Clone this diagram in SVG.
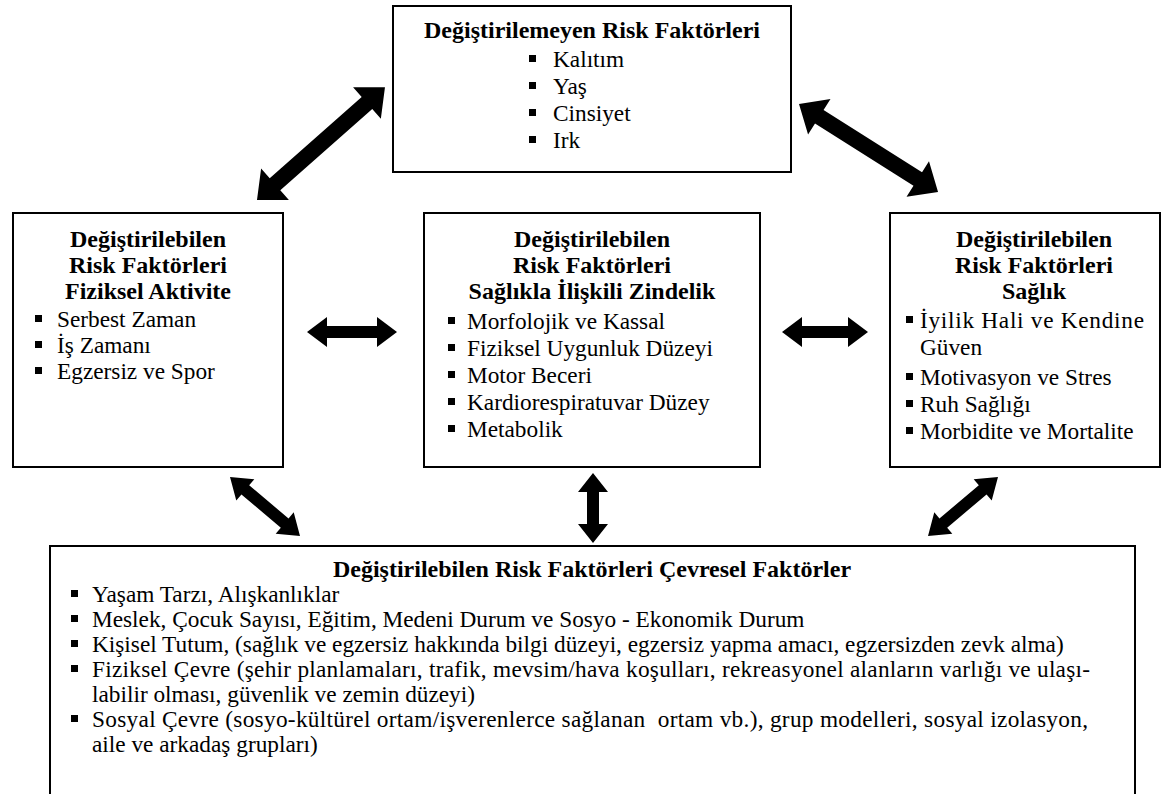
<svg xmlns="http://www.w3.org/2000/svg" width="1173" height="794" viewBox="0 0 1173 794">
<style>
.box{fill:#fff;stroke:#000;stroke-width:2}
.t{font-family:"Liberation Serif","Times New Roman",serif;font-size:23.3px;fill:#000}
.b{font-weight:bold;text-anchor:middle;font-size:24px}
.bul{fill:#000}
.arr{fill:#000}
</style>
<defs>
<rect id="sq" width="7" height="7" class="bul"/>
</defs>
<rect width="1173" height="794" fill="#fff"/>

<g id="connectors">
<polygon class="arr" transform="translate(257,200) rotate(-41.4)" points="0,0 24,-21 24,-8 146.6,-8 146.6,-21 170.6,0 146.6,21 146.6,8 24,8 24,21"/>
<polygon class="arr" transform="translate(799,104) rotate(32.3)" points="0,0 24,-21 24,-8 140.5,-8 140.5,-21 164.5,0 140.5,21 140.5,8 24,8 24,21"/>
<polygon class="arr" transform="translate(307,332)" points="0,0 20,-15 20,-6 70,-6 70,-15 90,0 70,15 70,6 20,6 20,15"/>
<polygon class="arr" transform="translate(782,332)" points="0,0 20,-15 20,-6 66,-6 66,-15 86,0 66,15 66,6 20,6 20,15"/>
<polygon class="arr" transform="translate(593,473) rotate(90)" points="0,0 19,-15 19,-6 51,-6 51,-15 70,0 51,15 51,6 19,6 19,15"/>
<polygon class="arr" transform="translate(230,477) rotate(40.1)" points="0,0 20,-14 20,-6 71.5,-6 71.5,-14 91.5,0 71.5,14 71.5,6 20,6 20,14"/>
<polygon class="arr" transform="translate(998,477) rotate(139.9)" points="0,0 20,-14 20,-6 71.5,-6 71.5,-14 91.5,0 71.5,14 71.5,6 20,6 20,14"/>
</g>

<g id="node-top">
<rect class="box" x="393" y="6" width="398" height="166"/>
<text class="t b" x="592" y="38">Değiştirilemeyen Risk Faktörleri</text>
<use href="#sq" x="529" y="55"/><text class="t" x="553" y="67">Kalıtım</text>
<use href="#sq" x="529" y="82"/><text class="t" x="553" y="94">Yaş</text>
<use href="#sq" x="529" y="109"/><text class="t" x="553" y="121">Cinsiyet</text>
<use href="#sq" x="529" y="136"/><text class="t" x="553" y="148">Irk</text>
</g>

<g id="node-left">
<rect class="box" x="13" y="213" width="270" height="254"/>
<text class="t b" x="148" y="247">Değiştirilebilen</text>
<text class="t b" x="148" y="273">Risk Faktörleri</text>
<text class="t b" x="148" y="299">Fiziksel Aktivite</text>
<use href="#sq" x="35" y="315"/><text class="t" x="57" y="327">Serbest Zaman</text>
<use href="#sq" x="35" y="341"/><text class="t" x="57" y="353">İş Zamanı</text>
<use href="#sq" x="35" y="367"/><text class="t" x="57" y="379">Egzersiz ve Spor</text>
</g>

<g id="node-middle">
<rect class="box" x="424" y="213" width="336" height="254"/>
<text class="t b" x="592" y="247">Değiştirilebilen</text>
<text class="t b" x="592" y="273">Risk Faktörleri</text>
<text class="t b" x="592" y="299">Sağlıkla İlişkili Zindelik</text>
<use href="#sq" x="448" y="317"/><text class="t" x="467" y="329">Morfolojik ve Kassal</text>
<use href="#sq" x="448" y="344"/><text class="t" x="467" y="356">Fiziksel Uygunluk Düzeyi</text>
<use href="#sq" x="448" y="371"/><text class="t" x="467" y="383">Motor Beceri</text>
<use href="#sq" x="448" y="398"/><text class="t" x="467" y="410">Kardiorespiratuvar Düzey</text>
<use href="#sq" x="448" y="425"/><text class="t" x="467" y="437">Metabolik</text>
</g>

<g id="node-right">
<rect class="box" x="890" y="213" width="270" height="254"/>
<text class="t b" x="1034" y="247">Değiştirilebilen</text>
<text class="t b" x="1034" y="273">Risk Faktörleri</text>
<text class="t b" x="1034" y="299">Sağlık</text>
<use href="#sq" x="906" y="316"/><text class="t" x="920" y="328" textLength="224" lengthAdjust="spacing">İyilik Hali ve Kendine</text>
<text class="t" x="920" y="355">Güven</text>
<use href="#sq" x="906" y="373"/><text class="t" x="920" y="385">Motivasyon ve Stres</text>
<use href="#sq" x="906" y="400"/><text class="t" x="920" y="412">Ruh Sağlığı</text>
<use href="#sq" x="906" y="427"/><text class="t" x="920" y="439">Morbidite ve Mortalite</text>
</g>

<g id="node-bottom">
<rect class="box" x="50" y="546" width="1085" height="260"/>
<text class="t b" x="592" y="577">Değiştirilebilen Risk Faktörleri Çevresel Faktörler</text>
<use href="#sq" x="71" y="590"/><text class="t" x="92" y="602">Yaşam Tarzı, Alışkanlıklar</text>
<use href="#sq" x="71" y="615"/><text class="t" x="92" y="627">Meslek, Çocuk Sayısı, Eğitim, Medeni Durum ve Sosyo - Ekonomik Durum</text>
<use href="#sq" x="71" y="640"/><text class="t" x="92" y="652">Kişisel Tutum, (sağlık ve egzersiz hakkında bilgi düzeyi, egzersiz yapma amacı, egzersizden zevk alma)</text>
<use href="#sq" x="71" y="665"/><text class="t" x="92" y="677" textLength="998" lengthAdjust="spacing">Fiziksel Çevre (şehir planlamaları, trafik, mevsim/hava koşulları, rekreasyonel alanların varlığı ve ulaşı-</text>
<text class="t" x="92" y="702">labilir olması, güvenlik ve zemin düzeyi)</text>
<use href="#sq" x="71" y="715"/><text class="t" x="92" y="727" xml:space="preserve" textLength="996" lengthAdjust="spacing">Sosyal Çevre (sosyo-kültürel ortam/işverenlerce sağlanan  ortam vb.), grup modelleri, sosyal izolasyon,</text>
<text class="t" x="92" y="752">aile ve arkadaş grupları)</text>
</g>
</svg>
